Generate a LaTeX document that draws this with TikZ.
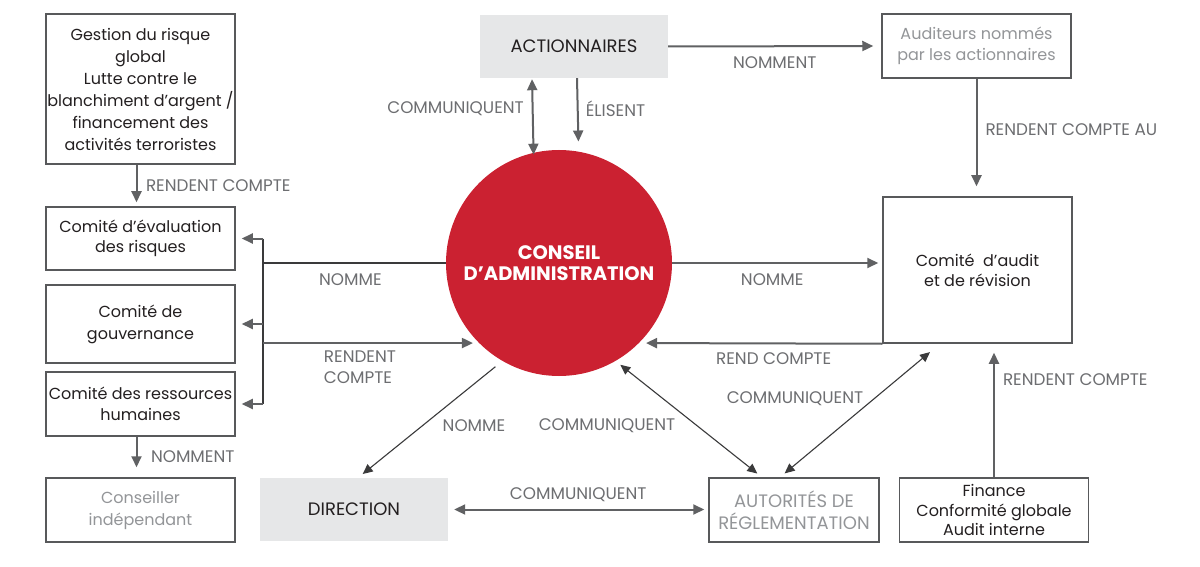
\documentclass[tikz,border=0pt]{standalone}
\usepackage{fontspec}
\setmainfont{Poppins}
\usetikzlibrary{arrows.meta,positioning}

\definecolor{rouge}{HTML}{CB2131}
\definecolor{bord}{HTML}{58595B}
\definecolor{fleche}{HTML}{606163}
\definecolor{etiq}{HTML}{6D6E71}
\definecolor{pale}{HTML}{939598}
\definecolor{fond}{HTML}{E6E7E8}
\definecolor{noir}{HTML}{231F20}

\begin{document}
\begin{tikzpicture}[x=1pt,y=-1pt,>={Triangle[length=11pt,width=10pt]},
                    font=\fontsize{16}{21.5}\selectfont]
  \tikzstyle{boite}=[draw=bord,line width=1.5pt,text=noir,align=center,
                     minimum width=189pt,inner sep=0pt]
  \tikzstyle{pale}=[boite,text=pale]
  \tikzstyle{grise}=[fill=fond,text=noir,minimum width=188pt,minimum height=63pt]
  \tikzstyle{majuscule}=[font=\fontsize{18}{22}\selectfont]
  \tikzstyle{lien}=[draw=fleche,line width=2pt]
  \tikzstyle{mince}=[draw=fleche!60!black,line width=1.1pt,
                     >={Triangle[length=10pt,width=9pt]}]
  \tikzstyle{etiq}=[text=etiq,inner sep=0pt,font=\fontsize{16.8}{21}\selectfont]

  \fill[white] (0,0) rectangle (1200,567);
  \useasboundingbox (0,0) rectangle (1200,567);

  % colonne de gauche
  \node[boite,minimum height=150pt,font=\fontsize{16}{22}\selectfont] (gestion) at (140.5,89)
    {Gestion du risque\\global\\Lutte contre le\\blanchiment d’argent /\\financement des\\activités terroristes};
  \node[boite,minimum height=63pt,font=\fontsize{16}{20}\selectfont] (eval) at (140.5,238.5)
    {Comité d’évaluation\\des risques};
  \node[boite,minimum height=78pt,font=\fontsize{16}{22}\selectfont] (gouv) at (140.5,324)
    {Comité de\\gouvernance};
  \node[boite,minimum height=64pt] (rh) at (140.5,404) {Comité des ressources\\humaines};
  \node[pale,minimum height=64pt,font=\fontsize{16}{22}\selectfont] (conseiller) at (140.5,510)
    {Conseiller\\indépendant};

  % centre
  \node[circle,fill=rouge,text=white,minimum size=226pt,inner sep=0pt,align=center,
        font=\fontsize{19.5}{21}\selectfont\bfseries] (ca) at (559,263)
    {CONSEIL\\D’ADMINISTRATION};
  \node[grise,majuscule] (action) at (574,46.5) {ACTIONNAIRES};
  \node[grise,majuscule] (direction) at (354,509.5) {DIRECTION};
  \node[pale,majuscule,minimum width=170pt,minimum height=64pt] (autorites) at (794,510)
    {AUTORITÉS DE\\RÉGLEMENTATION};

  % colonne de droite
  \node[pale,minimum height=64pt] (auditeurs) at (976.5,46) {Auditeurs nommés\\par les actionnaires};
  \node[boite,minimum height=146pt,font=\fontsize{16}{20}\selectfont] (audit) at (977.5,270)
    {Comité~ d’audit\\et de révision};
  \node[boite,minimum height=64pt,font=\fontsize{16}{19.5}\selectfont] (finance) at (994,510)
    {Finance\\Conformité globale\\Audit interne};

  \coordinate (fourche) at (263,264);
  \coordinate (haut) at (263,238.5);
  \coordinate (bas) at (263,404);

  % liens verticaux
  \path ([xshift=-4pt]gestion.south) edge[lien,->,shorten >=4pt]
          node[etiq,right=8.5pt] {RENDENT COMPTE} ([xshift=-4pt]eval.north)
        ([xshift=-4pt]rh.south) edge[lien,->,shorten >=10pt]
          node[etiq,right=13.5pt] {NOMMENT} ([xshift=-4pt]conseiller.north)
        ([xshift=-42pt]action.south) edge[lien,<->,shorten <=1pt,shorten >=-2pt]
          node[etiq,left=8pt,yshift=6.5pt] {COMMUNIQUENT} (ca.103.8)
        ([xshift=3pt]action.south) edge[lien,->,shorten >=10pt]
          node[etiq,right=7pt,yshift=6.5pt] {ÉLISENT} (ca.80.8)
        (auditeurs.south) edge[lien,->,shorten >=10pt]
          node[etiq,right=8pt,yshift=7.5pt] {RENDENT COMPTE AU} (auditeurs.south |- audit.north)
        (finance.north) edge[lien,->,shorten >=9pt]
          node[etiq,pos=0.73,right=8pt] {RENDENT COMPTE} (finance.north |- audit.south);

  % fourche des comités
  \draw[mince] (ca.west) -- (ca.west -| fourche)
    node[etiq,midway,below=10pt,xshift=-4pt] {NOMME};
  \draw[mince] (haut) -- (bas);
  \path (haut) edge[lien,->,shorten >=6pt] (eval.east)
        (gouv.east -| fourche) edge[lien,->,shorten >=6pt] (gouv.east)
        (bas) edge[lien,->,shorten >=6pt] (rh.east)
        (fourche |- ca.225) edge[lien,->,shorten >=6pt]
          node[etiq,below=7pt,xshift=-11pt,align=left] {RENDENT\\COMPTE} (ca.225);

  % liens horizontaux
  \path (action.east) edge[lien,->,shorten >=8pt]
          node[etiq,below=9.5pt] {NOMMENT} (auditeurs.west)
        (ca.east) edge[lien,->,shorten >=4pt]
          node[etiq,below=10pt,xshift=-5pt] {NOMME} (ca.east -| audit.west)
        (audit.south west) edge[lien,->,shorten >=7pt]
          node[etiq,below=8pt,xshift=13pt] {REND COMPTE} (ca.-45)
        (direction.east) edge[lien,<->,shorten <=6pt,shorten >=4pt]
          node[etiq,above=6.5pt] {COMMUNIQUENT} (direction.east -| autorites.west);

  % liens obliques
  \path ([xshift=-37.5pt]audit.south) edge[mince,<->,shorten <=13pt,shorten >=6pt]
          ([xshift=-14pt]autorites.north)
        (ca.-60.4) edge[mince,<->,shorten <=6pt,shorten >=6pt]
          ([xshift=-32pt]autorites.north)
        (ca.-120) edge[mince,->,shorten <=9pt,shorten >=6pt]
          ([xshift=4pt]direction.north);
  \node[etiq] (lcomm1) at (795,399) {COMMUNIQUENT};
  \node[etiq] (lcomm2) at (607,426) {COMMUNIQUENT};
  \node[etiq] (lnomme) at (474,426) {NOMME};
\end{tikzpicture}
\end{document}
